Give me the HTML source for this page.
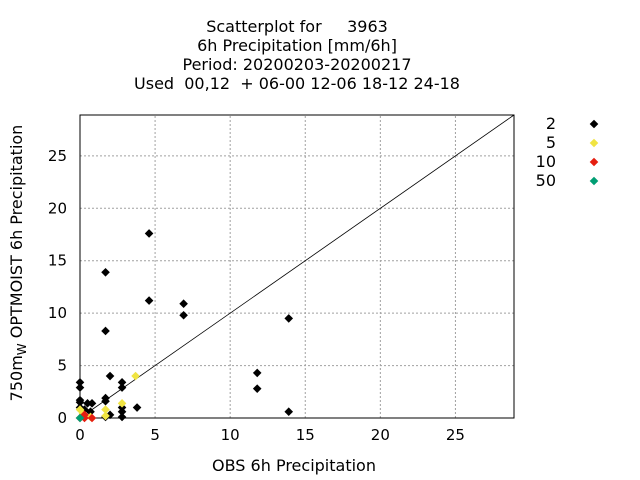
<!DOCTYPE html>
<html><head><meta charset="utf-8"><style>
body{margin:0;background:#fff;}
svg{display:block;font-family:"DejaVu Sans","Liberation Sans",sans-serif;}
</style></head><body>
<svg id="chart" width="640" height="480" viewBox="0 0 640 480">
<g font-size="16" text-anchor="middle" fill="#000">
<text x="297" y="32" xml:space="preserve">Scatterplot for     3963</text>
<text x="297" y="51">6h Precipitation [mm/6h]</text>
<text x="297" y="70">Period: 20200203-20200217</text>
<text x="297" y="89" xml:space="preserve">Used  00,12  + 06-00 12-06 18-12 24-18</text>
</g>
<g id="grid"></g>
<g id="axes"></g>
<line id="diag" stroke="#000" stroke-width="0.8"/>
<g id="pts"></g>
<text x="294" y="471" font-size="16" text-anchor="middle">OBS 6h Precipitation</text>
<text transform="translate(22,263) rotate(-90)" font-size="16" text-anchor="middle">750m<tspan font-size="12" dy="4">W</tspan><tspan dy="-4"> OPTMOIST 6h Precipitation</tspan></text>
<g id="legend"></g>
</svg>
<script>
const xTicks=[0,5,10,15,20,25];
const yTicks=[0,5,10,15,20,25];
const seriesNames=["2","5","10","50"];
const seriesColors=["#000000","#f0e442","#e51e10","#009e73"];
const blackX=[4.6,1.7,4.6,6.9,6.9,1.7,11.8,11.8,13.9,13.9,2.0,0,0,2.8,2.8,0,1.7,1.7,0,0.5,0.8,3.8,2.8,2.8,2.8,0,0.3,0.7,1.7,2.0];
const blackY=[17.6,13.9,11.2,10.9,9.8,8.3,4.3,2.8,9.5,0.6,4.0,3.4,2.9,3.4,2.9,1.7,1.9,1.6,1.5,1.4,1.4,1.0,1.0,0.6,0.1,1.0,0.8,0.6,0.1,0.3];
const yellowX=[3.7,2.8,1.7,1.7,0,0.2,0.7];
const yellowY=[4.0,1.4,0.8,0.2,0.8,0.4,0.1];
const redX=[0,0.3,0.8,0.3];
const redY=[0,0,0,0.3];
const greenX=[0];
const greenY=[0];
const NS="http://www.w3.org/2000/svg";
const X0=80,X1=514,Y0=418,Y1=115,MAX=28.9;
const sx=v=>X0+v/MAX*(X1-X0);
const sy=v=>Y0-v/MAX*(Y0-Y1);
function mk(tag,attrs,parent){const e=document.createElementNS(NS,tag);for(const k in attrs)e.setAttribute(k,attrs[k]);parent.appendChild(e);return e;}
const grid=document.getElementById('grid'),axes=document.getElementById('axes');
xTicks.forEach(t=>{
 if(t>0){const l=mk('line',{x1:sx(t),x2:sx(t),y1:Y0,y2:Y1,stroke:'#a0a0a0','stroke-dasharray':'2,2'},grid);
 
 }
 const tx=mk('text',{x:sx(t),y:Y0+22,'font-size':15,'text-anchor':'middle'},axes);tx.textContent=t;
 
 
});
yTicks.forEach(t=>{
 if(t>0){const l=mk('line',{x1:X0,x2:X1,y1:sy(t),y2:sy(t),stroke:'#a0a0a0','stroke-dasharray':'2,2'},grid);
 
 }
 const tx=mk('text',{x:X0-13,y:sy(t)+5,'font-size':15,'text-anchor':'end'},axes);tx.textContent=t;
 
 
});
const fr=mk('rect',{x:X0,y:Y1,width:X1-X0,height:Y0-Y1,fill:'none',stroke:'#000'},axes);


const d=document.getElementById('diag');
d.setAttribute('x1',sx(0));d.setAttribute('y1',sy(0));d.setAttribute('x2',sx(MAX));d.setAttribute('y2',sy(MAX));
const pts=document.getElementById('pts');
function diamond(cx,cy,c,parent){return mk('path',{d:`M${cx} ${cy-4.3}L${cx+4.3} ${cy}L${cx} ${cy+4.3}L${cx-4.3} ${cy}Z`,fill:c},parent);}
const sets=[[blackX,blackY],[yellowX,yellowY],[redX,redY],[greenX,greenY]];
sets.forEach((s,i)=>{s[0].forEach((x,j)=>{
 const p=diamond(sx(x),sy(s[1][j]),seriesColors[i],pts);
 
 
});});
const lg=document.getElementById('legend');
seriesNames.forEach((n,i)=>{
 const y=124+i*19;
 const t=mk('text',{x:556,y:y+5,'font-size':16,'text-anchor':'end'},lg);t.textContent=n;
 
 
 const m=diamond(594,y,seriesColors[i],lg);
 
 
});
</script>
</body></html>
